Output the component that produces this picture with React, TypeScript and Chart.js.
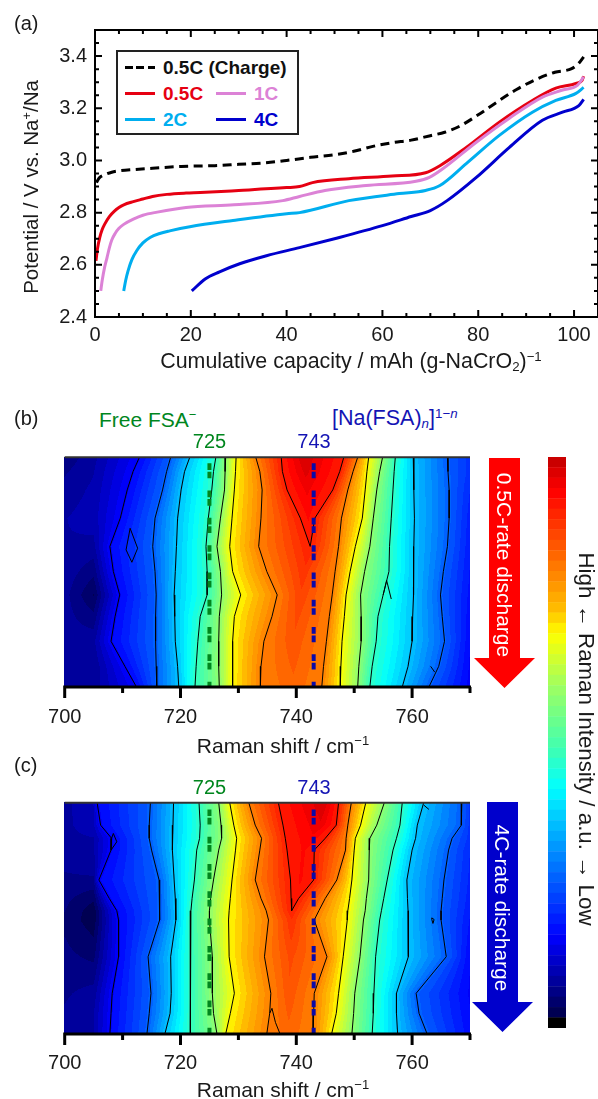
import React, { useEffect, useRef } from "react";
import { Chart, registerables } from "chart.js";

Chart.register(...registerables);

const FONT = "'Liberation Sans', Arial, sans-serif";

// ---------- Panel (a): discharge / charge curves (capacity, potential) ----------
const chargeCap = [0.3, 0.6, 1, 2, 3.5, 5, 8, 12, 18, 25, 30, 35, 40, 45, 50, 54, 58, 62, 66, 70, 73, 76, 80, 84, 88, 92, 96, 99.5, 101, 102];
const chargeV = [2.915, 2.925, 2.935, 2.945, 2.955, 2.96, 2.965, 2.97, 2.977, 2.98, 2.985, 2.99, 3.0, 3.012, 3.022, 3.035, 3.054, 3.068, 3.078, 3.095, 3.108, 3.13, 3.175, 3.225, 3.272, 3.31, 3.338, 3.352, 3.373, 3.397];
const c05Cap = [0.2, 0.5, 1, 1.5, 2, 3, 4, 5, 6, 8, 10, 12, 15, 19, 22, 30, 40, 42.7, 45.4, 53, 62, 69, 72, 77.5, 84.4, 91.3, 96.2, 100.4, 101.7, 102];
const c05V = [2.615, 2.66, 2.705, 2.735, 2.755, 2.785, 2.805, 2.82, 2.83, 2.842, 2.852, 2.862, 2.87, 2.875, 2.877, 2.885, 2.896, 2.9, 2.915, 2.93, 2.94, 2.953, 2.98, 3.05, 3.147, 3.23, 3.277, 3.295, 3.308, 3.323];
const c1Cap = [1.2, 1.5, 2, 2.5, 3, 3.5, 4.2, 5, 6, 8, 10, 13, 19, 29, 39.2, 42.7, 48, 56.6, 67, 69.8, 72.6, 79.6, 86.5, 93.4, 97.6, 100.7, 102];
const c1V = [2.5, 2.54, 2.59, 2.627, 2.665, 2.695, 2.72, 2.74, 2.755, 2.775, 2.79, 2.802, 2.82, 2.83, 2.846, 2.862, 2.885, 2.904, 2.92, 2.935, 2.968, 3.07, 3.162, 3.243, 3.27, 3.288, 3.32];
const c2Cap = [6, 6.4, 6.9, 7.7, 8.7, 10, 11.5, 13.5, 15.6, 19.8, 28.8, 40, 42.7, 53, 63.5, 69, 72, 77.5, 84.4, 91.3, 96.2, 100.4, 102];
const c2V = [2.5, 2.54, 2.577, 2.62, 2.654, 2.684, 2.705, 2.72, 2.73, 2.746, 2.77, 2.796, 2.8, 2.846, 2.873, 2.885, 2.904, 2.988, 3.096, 3.185, 3.23, 3.257, 3.28];
const c4Cap = [20.2, 23, 26, 30.2, 35.8, 42.7, 50, 60, 66, 70, 73.5, 79.6, 86.5, 93.4, 97.6, 101, 102];
const c4V = [2.5, 2.546, 2.573, 2.604, 2.635, 2.666, 2.7, 2.75, 2.785, 2.808, 2.846, 2.935, 3.05, 3.154, 3.185, 3.21, 3.234];

// ---------- Colour scale ----------
const bandCount = 55;
const stopValues = [0, 0.018, 0.02, 0.06, 0.16, 0.295, 0.42, 0.49, 0.6, 0.69, 0.73, 0.8, 0.87, 0.94, 1];
const stopColors = [[0, 0, 0], [0, 0, 0], [0, 0, 72], [0, 0, 128], [0, 0, 255], [0, 128, 255], [0, 255, 255], [64, 255, 176], [160, 255, 96], [255, 255, 0], [255, 192, 0], [255, 128, 0], [255, 64, 0], [255, 0, 0], [192, 0, 0]];
const contourLevels = [0.16, 0.26, 0.36, 0.47, 0.58, 0.69, 0.8, 0.91];

// ---------- Panel (b): rows are % of the discharge from the top ----------
const bRows = [0, 6.2, 14.2, 26.5, 38.8, 49.7, 59.9, 69.3, 80.1, 91, 100];
const bEdge700 = [0.06, 0.07, 0.08, 0.09, 0.09, 0.085, 0.08, 0.08, 0.08, 0.075, 0.075];
const bDip705 = [0.085, 0.09, 0.095, 0.1, 0.085, 0.06, 0.035, 0.06, 0.085, 0.075, 0.08];
const bL16 = [712.9, 711.8, 710.8, 709.6, 707.8, 708.4, 709.5, 708.7, 708.0, 710.4, 712.4];
const bL26 = [718.3, 717.6, 716.9, 715.6, 715.2, 715.6, 715.8, 715.7, 715.7, 715.8, 715.9];
const bL36 = [721.6, 720.7, 720.1, 719.5, 719.3, 719.1, 718.9, 719.0, 719.1, 719.5, 719.7];
const bL47 = [726.1, 725.7, 725.4, 724.8, 724.4, 724.6, 724.6, 723.4, 723.0, 722.7, 722.5];
const bL58 = [727.8, 727.7, 727.6, 726.9, 726.3, 726.9, 727.1, 726.7, 726.6, 726.6, 726.7];
const bL69 = [729.6, 729.5, 729.3, 728.9, 728.5, 729.0, 730.4, 729.3, 729.0, 729.0, 729.0];
const bL80 = [733.0, 733.7, 734.1, 733.9, 733.5, 734.9, 736.7, 735.8, 734.4, 733.9, 733.8];
const bPeakLeft = [737.4, 737.6, 738.4, 740.7, 742.4, 741.3, 740.7, 740.1, 739.5, 739.5, 739.5];
const bRidge = [741.3, 741.6, 741.8, 742.1, 742.4, 741.3, 740.7, 740.1, 739.5, 739.5, 739.5];
const bRidgeValue = [0.98, 0.97, 0.95, 0.93, 0.91, 0.885, 0.87, 0.86, 0.85, 0.84, 0.83];
const bPeakRight = [748.2, 747.5, 746.3, 743.2, 742.4, 741.3, 740.7, 740.1, 739.5, 739.5, 739.5];
const bR80 = [750.6, 749.8, 748.9, 747.8, 747.3, 746.7, 746.2, 745.7, 745.2, 744.7, 744.4];
const bR69 = [752.5, 752.2, 751.9, 751.4, 750.2, 749.3, 748.6, 748.3, 747.9, 747.7, 747.6];
const bR58 = [754.9, 754.4, 753.9, 753.3, 752.7, 751.8, 751.1, 751.2, 751.2, 750.8, 750.6];
const bR47 = [757.1, 756.9, 756.7, 756.4, 756.1, 756.0, 755.0, 754.1, 753.8, 753.1, 752.7];
const bR36 = [760.2, 760.3, 760.3, 760.4, 760.3, 760.3, 760.2, 760.1, 760.0, 759.3, 758.3];
const bR26 = [766.1, 766.2, 766.4, 766.4, 766.1, 765.4, 764.9, 765.2, 765.6, 764.6, 762.9];
const bEdge770 = [0.21, 0.21, 0.2, 0.19, 0.185, 0.18, 0.175, 0.17, 0.165, 0.16, 0.155];
const bPeakTipRow = 4;
const bLoopX = [711.3, 712.6, 711.6, 710.6, 711.3];
const bLoopY = [30.9, 39.6, 45.7, 40.3, 30.9];
const bSpikeX = [755.0, 755.6, 756.4];
const bSpikeY = [59.9, 53.6, 61.7];
const bNotchX = [763.9, 763.2];
const bNotchY = [93.5, 91];

// ---------- Panel (c) ----------
const cRows = [0, 9.7, 15.4, 20.5, 33.4, 41.4, 46.7, 50.7, 66.6, 82.4, 91.1, 100];
const cEdge700 = [0.085, 0.085, 0.085, 0.08, 0.07, 0.06, 0.055, 0.05, 0.06, 0.07, 0.075, 0.08];
const cDip705 = [0.11, 0.105, 0.09, 0.09, 0.07, 0.04, 0.025, 0.025, 0.05, 0.08, 0.09, 0.09];
const cL16 = [705.6, 706.2, 708.1, 708.0, 705.9, 707.7, 709.0, 709.3, 709.3, 708.2, 708.0, 707.8];
const cL26 = [714.8, 714.6, 714.6, 715.0, 716.3, 716.4, 716.4, 716.4, 714.4, 714.9, 714.6, 714.2];
const cL36 = [718.8, 718.7, 718.6, 718.6, 718.9, 719.1, 719.2, 719.2, 718.3, 718.4, 718.2, 717.3];
const cL47 = [723.2, 723.4, 723.3, 722.8, 722.4, 722.0, 721.8, 721.7, 721.7, 721.7, 721.7, 721.7];
const cL58 = [726.6, 727.0, 727.1, 726.6, 725.7, 725.2, 725.0, 725.0, 725.5, 725.5, 725.7, 726.3];
const cL69 = [728.5, 729.2, 729.7, 729.5, 728.9, 728.6, 728.4, 728.3, 728.4, 729.3, 728.6, 727.8];
const cL80 = [731.8, 732.9, 734.0, 733.7, 732.9, 733.9, 734.8, 735.2, 734.5, 735.6, 735.4, 734.9];
const cPeakLeft = [736.9, 737.7, 738.1, 738.4, 739.0, 739.1, 739.2, 739.2, 739.0, 738.7, 738.7, 738.7];
const cRidge = [744.7, 744.1, 742.4, 741.3, 740.7, 739.8, 739.2, 739.2, 739.0, 738.7, 738.7, 738.7];
const cRidgeValue = [0.98, 0.96, 0.94, 0.93, 0.93, 0.92, 0.91, 0.89, 0.86, 0.85, 0.84, 0.83];
const cPeakRight = [747.3, 746.9, 745.0, 743.1, 743.0, 740.4, 739.2, 739.2, 739.0, 738.7, 738.7, 738.7];
const cR80 = [749.5, 748.9, 748.6, 748.5, 747.0, 745.0, 743.9, 743.1, 745.3, 743.1, 743.0, 742.9];
const cR69 = [752.0, 751.1, 750.2, 750.0, 749.6, 749.2, 748.9, 748.8, 748.1, 747.3, 746.9, 746.1];
const cR58 = [755.2, 753.9, 752.7, 752.6, 752.5, 752.1, 751.9, 751.6, 751.0, 750.1, 749.9, 749.6];
const cR47 = [758.3, 757.9, 757.3, 756.7, 755.7, 755.1, 754.7, 754.4, 753.7, 753.4, 753.3, 753.1];
const cR36 = [762.0, 760.9, 760.6, 760.0, 759.1, 759.2, 759.3, 759.3, 759.4, 757.3, 757.3, 757.5];
const cR26 = [768.6, 768.5, 766.9, 766.3, 765.5, 765.2, 765.0, 765.0, 765.9, 760.7, 761.2, 762.6];
const cEdge770 = [0.21, 0.21, 0.21, 0.2, 0.195, 0.19, 0.185, 0.18, 0.165, 0.16, 0.165, 0.17];
const cPeakTipRow = 6;
const cNotchX = [708.1, 708.4, 709.0, 708.0];
const cNotchY = [15.4, 13.3, 16.9, 20.5];
const cBottomLoopX = [735.4, 735.8, 736.4, 737.2];
const cBottomLoopY = [91.1, 88.9, 95, 100];
const cDotX = [763.4, 763.8, 763.6, 763.4, 763.4];
const cDotY = [49.8, 50.5, 52.2, 50.5, 49.8];
const cTopNotchX = [762.0, 762.9];
const cTopNotchY = [1, 2.9];

const freeFsaShift = [725];
const naFsaShift = [743];
const xTickMajor = 20;

const makePanel = (rows, e700, dip, ls, pl, ridge, rv, pr, rs, e770, tip, details, dashStart) => ({
  rows, e700, dip, ls, pl, ridge, rv, pr, rs, e770, tip, details, dashStart,
});

const panelB = makePanel(bRows, bEdge700, bDip705, [bL16, bL26, bL36, bL47, bL58, bL69, bL80], bPeakLeft, bRidge, bRidgeValue, bPeakRight, [bR80, bR69, bR58, bR47, bR36, bR26], bEdge770, bPeakTipRow,
  [[bLoopX, bLoopY], [bSpikeX, bSpikeY], [bNotchX, bNotchY]], 2.6);
const panelC = makePanel(cRows, cEdge700, cDip705, [cL16, cL26, cL36, cL47, cL58, cL69, cL80], cPeakLeft, cRidge, cRidgeValue, cPeakRight, [cR80, cR69, cR58, cR47, cR36, cR26], cEdge770, cPeakTipRow,
  [[cNotchX, cNotchY], [cBottomLoopX, cBottomLoopY], [cDotX, cDotY], [cTopNotchX, cTopNotchY]], 2.9);

function colorAt(v: number) {
  let i = 0;
  while (i < stopValues.length - 2 && v > stopValues[i + 1]) i++;
  const t = Math.max(0, Math.min(1, (v - stopValues[i]) / (stopValues[i + 1] - stopValues[i] || 1)));
  const a = stopColors[i], b = stopColors[i + 1];
  return `rgb(${Math.round(a[0] + (b[0] - a[0]) * t)},${Math.round(a[1] + (b[1] - a[1]) * t)},${Math.round(a[2] + (b[2] - a[2]) * t)})`;
}
const bandColorList = Array.from({ length: bandCount }, (_, i) => colorAt((i + 0.5) / bandCount));
const bandColor = (v: number) => bandColorList[Math.max(0, Math.min(bandCount - 1, Math.floor(v * bandCount)))];
const bandLabels = bandColorList.map((_, i) => String(bandCount - 1 - i));

// Knots of one row: [x, value] left to right.
function rowKnots(p, r: number) {
  const n = p.rows.length;
  const at = (arr, i) => arr[i];
  const knotsOf = (i: number) => {
    const k: number[][] = [[700, at(p.e700, i)], [705, at(p.dip, i)]];
    p.ls.forEach((a, j) => k.push([at(a, i), contourLevels[j]]));
    const rv = at(p.rv, i);
    k.push([at(p.pl, i), Math.min(contourLevels[7], rv)]);
    k.push([at(p.ridge, i), rv]);
    k.push([at(p.pr, i), Math.min(contourLevels[7], rv)]);
    p.rs.forEach((a, j) => k.push([at(a, i), contourLevels[6 - j]]));
    k.push([770, at(p.e770, i)]);
    return k;
  };
  let i = 0;
  while (i < n - 2 && r > p.rows[i + 1]) i++;
  const t = Math.max(0, Math.min(1, (r - p.rows[i]) / (p.rows[i + 1] - p.rows[i])));
  const a = knotsOf(i), b = knotsOf(i + 1);
  return a.map((k, j) => [k[0] + (b[j][0] - k[0]) * t, k[1] + (b[j][1] - k[1]) * t]);
}

const heatPlugin = (panel) => ({
  id: "heat",
  beforeDatasetsDraw(chart) {
    const { ctx, chartArea: ca, scales } = chart;
    const sx = scales.x, sy = scales.y;
    const top = Math.floor(ca.top), bottom = Math.ceil(ca.bottom);
    const left = Math.floor(ca.left), right = Math.ceil(ca.right);
    ctx.save();
    for (let py = top; py < bottom; py++) {
      const knots = rowKnots(panel, sy.getValueForPixel(py + 0.5));
      let j = 0, runStart = left, runColor = "";
      for (let px = left; px <= right; px++) {
        const x = sx.getValueForPixel(px + 0.5);
        while (j < knots.length - 2 && x > knots[j + 1][0]) j++;
        const d = knots[j + 1][0] - knots[j][0] || 1;
        const t = Math.max(0, Math.min(1, (x - knots[j][0]) / d));
        const c = px === right ? "" : bandColor(knots[j][1] + (knots[j + 1][1] - knots[j][1]) * t);
        if (c !== runColor) {
          if (runColor) {
            ctx.fillStyle = runColor;
            ctx.fillRect(runStart, py, px - runStart, 1);
          }
          runStart = px;
          runColor = c;
        }
      }
    }
    ctx.restore();
  },
});

const heatFrame = {
  id: "heatFrame",
  afterDatasetsDraw(chart) {
    const { ctx, chartArea: ca, scales } = chart;
    ctx.save();
    ctx.strokeStyle = "#333";
    ctx.lineWidth = 2;
    ctx.beginPath();
    ctx.moveTo(ca.left, ca.top);
    ctx.lineTo(ca.right, ca.top);
    ctx.stroke();
    ctx.strokeStyle = "#000";
    ctx.lineWidth = 3;
    ctx.beginPath();
    ctx.moveTo(ca.left - 1.5, ca.bottom);
    ctx.lineTo(ca.right + 1, ca.bottom);
    scales.x.ticks.forEach((t) => {
      const p = scales.x.getPixelForValue(t.value);
      ctx.moveTo(p, ca.bottom);
      ctx.lineTo(p, ca.bottom + (t.value % xTickMajor === 0 ? 11 : 6));
    });
    ctx.stroke();
    ctx.restore();
  },
};

const boxFrame = {
  id: "boxFrame",
  afterDatasetsDraw(chart) {
    const { ctx, chartArea: ca, scales } = chart;
    ctx.save();
    ctx.strokeStyle = "#000";
    ctx.lineWidth = 2;
    ctx.beginPath();
    ctx.moveTo(ca.left, ca.bottom);
    ctx.lineTo(ca.left, ca.top);
    ctx.lineTo(ca.right, ca.top);
    ctx.lineTo(ca.right, ca.bottom);
    ctx.closePath();
    scales.x.ticks.forEach((t) => {
      const p = scales.x.getPixelForValue(t.value);
      const l = t.value % 20 === 0 ? 7 : 4;
      ctx.moveTo(p, ca.bottom);
      ctx.lineTo(p, ca.bottom - l);
      ctx.moveTo(p, ca.top);
      ctx.lineTo(p, ca.top + l);
    });
    scales.y.ticks.forEach((t) => {
      const p = scales.y.getPixelForValue(t.value);
      const major = Math.abs(t.value / 0.2 - Math.round(t.value / 0.2)) < 1e-6;
      const l = major ? 7 : 4;
      ctx.moveTo(ca.left, p);
      ctx.lineTo(ca.left + l, p);
      ctx.moveTo(ca.right, p);
      ctx.lineTo(ca.right - l, p);
    });
    ctx.stroke();
    ctx.restore();
  },
};

const tickFont = { family: FONT, size: 20 };
const TEXT = "#1a1a1a";
const noGrid = { display: false, drawTicks: false };

const zip = (xs, ys) => xs.map((x, i) => ({ x, y: ys[i] }));
const curve = (label, xs, ys, color, dash?) => ({
  label,
  data: zip(xs, ys),
  borderColor: color,
  borderWidth: 3,
  borderDash: dash || [],
  pointRadius: 0,
  showLine: true,
  cubicInterpolationMode: "monotone",
});

function buildCurves(canvas) {
  return new Chart(canvas, {
    type: "scatter",
    data: {
      datasets: [
        curve("0.5C (Charge)", chargeCap, chargeV, "#000000", [9, 5.5]),
        curve("1C", c1Cap, c1V, "#dc82d6"),
        curve("0.5C", c05Cap, c05V, "#e60012"),
        curve("2C", c2Cap, c2V, "#00aeef"),
        curve("4C", c4Cap, c4V, "#0000cd"),
      ],
    },
    options: {
      animation: false,
      responsive: false,
      layout: { padding: { top: 30, right: 5, left: 0, bottom: 0 } },
      plugins: { legend: { display: false }, tooltip: { enabled: false } },
      scales: {
        x: {
          type: "linear",
          min: 0,
          max: 105,
          grid: noGrid,
          border: { display: false },
          afterFit: (s) => { s.height = 73; },
          ticks: {
            stepSize: 5,
            autoSkip: false,
            maxRotation: 0,
            padding: 6,
            font: tickFont,
            color: TEXT,
            callback: (v) => (v % 20 === 0 ? String(v) : ""),
          },
        },
        y: {
          type: "linear",
          min: 2.4,
          max: 3.5,
          grid: noGrid,
          border: { display: false },
          afterFit: (s) => { s.width = 95; },
          ticks: {
            stepSize: 0.05,
            autoSkip: false,
            padding: 8,
            font: tickFont,
            color: TEXT,
            callback: (v) => (Math.abs(v / 0.2 - Math.round(v / 0.2)) < 1e-6 ? v.toFixed(1) : ""),
          },
        },
      },
    },
    plugins: [boxFrame],
  });
}

const contourLine = (pts) => ({
  data: pts,
  borderColor: "#000",
  borderWidth: 1,
  pointRadius: 0,
  showLine: true,
  tension: 0,
});
const markerLine = (x, dashStart, color) => ({
  data: [{ x, y: dashStart }, { x, y: 100 }],
  borderColor: color,
  borderWidth: 4,
  borderDash: [6.7, 1.7, 6.7, 12.2],
  pointRadius: 0,
  showLine: true,
});

function buildHeat(canvas, panel, plotTop, plotHeightBelow, labelPad) {
  const rowsOf = (xs) => zip(xs, panel.rows);
  const peakLoop = [
    ...rowsOf(panel.pl).slice(0, panel.tip + 1),
    ...rowsOf(panel.pr).slice(0, panel.tip + 1).reverse(),
  ];
  return new Chart(canvas, {
    type: "scatter",
    data: {
      datasets: [
        markerLine(freeFsaShift[0], panel.dashStart, "#00861e"),
        markerLine(naFsaShift[0], panel.dashStart, "#0a0aa8"),
        ...panel.ls.map((a) => contourLine(rowsOf(a))),
        contourLine(peakLoop),
        ...panel.rs.map((a) => contourLine(rowsOf(a))),
        ...panel.details.map((d) => contourLine(zip(d[0], d[1]))),
      ],
    },
    options: {
      animation: false,
      responsive: false,
      layout: { padding: { top: plotTop, left: 64.7, right: 598 - 470, bottom: 0 } },
      plugins: { legend: { display: false }, tooltip: { enabled: false } },
      scales: {
        x: {
          type: "linear",
          min: 700,
          max: 770,
          grid: noGrid,
          border: { display: false },
          afterFit: (s) => { s.height = plotHeightBelow; },
          ticks: {
            stepSize: 10,
            autoSkip: false,
            maxRotation: 0,
            padding: labelPad,
            font: tickFont,
            color: TEXT,
            callback: (v) => (v % xTickMajor === 0 && v !== 770 ? String(v) : ""),
          },
        },
        y: { type: "linear", min: 0, max: 100, reverse: true, display: false },
      },
    },
    plugins: [heatPlugin(panel), heatFrame],
  });
}

function buildColorBar(canvas) {
  return new Chart(canvas, {
    type: "bar",
    data: {
      labels: bandLabels,
      datasets: [
        {
          data: bandColorList.map(() => 1),
          backgroundColor: bandColorList.slice().reverse(),
          barPercentage: 1.04,
          categoryPercentage: 1,
          borderWidth: 0,
        },
      ],
    },
    options: {
      indexAxis: "y",
      animation: false,
      responsive: false,
      layout: { padding: 0 },
      plugins: { legend: { display: false }, tooltip: { enabled: false } },
      scales: {
        x: { type: "linear", min: 0, max: 1, display: false },
        y: { type: "category", display: false },
      },
    },
  });
}

const Txt = ({ x, y, color = TEXT, size = 20, rotate = 0, bold = false, align = "center", children }: any) => (
  <div
    style={{
      position: "absolute",
      left: x,
      top: y,
      color,
      fontSize: size,
      fontFamily: FONT,
      fontWeight: bold ? 700 : 400,
      whiteSpace: "nowrap",
      lineHeight: 1,
      transform: `translate(${align === "left" ? "0" : "-50%"},-50%) rotate(${rotate}deg)`,
    }}
  >
    {children}
  </div>
);
const Sup = ({ children }: any) => (
  <sup style={{ fontSize: "0.62em", lineHeight: 0, verticalAlign: "0.55em" }}>{children}</sup>
);
const Sub = ({ children }: any) => (
  <sub style={{ fontSize: "0.62em", lineHeight: 0, verticalAlign: "-0.2em" }}>{children}</sub>
);

const Arrow = ({ left, top, width, height, color }: any) => {
  const head = 61, shaft = 31, headLen = 30;
  const a = (head - shaft) / 2;
  return (
    <div
      style={{
        position: "absolute",
        left,
        top,
        width,
        height,
        background: color,
        clipPath: `polygon(${a}px 0, ${a + shaft}px 0, ${a + shaft}px ${height - headLen}px, ${head}px ${height - headLen}px, ${head / 2}px ${height}px, 0 ${height - headLen}px, ${a}px ${height - headLen}px)`,
      }}
    />
  );
};

const LegendLine = ({ x, y, color, dashed = false }: any) => (
  <div
    style={{
      position: "absolute",
      left: x,
      top: y - 1.5,
      width: 30,
      height: 3,
      background: dashed
        ? `repeating-linear-gradient(90deg, ${color} 0 8px, transparent 8px 11.5px)`
        : color,
    }}
  />
);

export default function App() {
  const aRef = useRef<HTMLCanvasElement>(null);
  const bRef = useRef<HTMLCanvasElement>(null);
  const cRef = useRef<HTMLCanvasElement>(null);
  const barRef = useRef<HTMLCanvasElement>(null);

  useEffect(() => {
    const charts = [
      buildCurves(aRef.current),
      buildHeat(bRef.current, panelB, 17.3, 83, 18),
      buildHeat(cRef.current, panelC, 17.7, 65, 17),
      buildColorBar(barRef.current),
    ];
    return () => charts.forEach((c) => c.destroy());
  }, []);

  const canvasStyle = (left: number, top: number): React.CSSProperties => ({ position: "absolute", left, top, display: "block" });

  return (
    <div style={{ position: "absolute", left: 0, top: 0, width: 598, height: 1099, overflow: "hidden", background: "#fff" }}>
      <canvas ref={aRef} width={604} height={390} style={canvasStyle(0, 0)} />
      <canvas ref={bRef} width={598} height={330} style={canvasStyle(0, 440)} />
      <canvas ref={cRef} width={598} height={314} style={canvasStyle(0, 785)} />
      <canvas ref={barRef} width={18} height={571} style={canvasStyle(548, 457)} />

      <Txt x={14} y={23} align="left">(a)</Txt>
      <Txt x={14} y={418} align="left">(b)</Txt>
      <Txt x={14} y={765} align="left">(c)</Txt>

      <Txt x={31} y={187} rotate={-90} size={20.5}>Potential / V vs. Na<Sup>+</Sup>/Na</Txt>
      <Txt x={351} y={362} size={21.4}>Cumulative capacity / mAh (g-NaCrO<Sub>2</Sub>)<Sup>−1</Sup></Txt>
      <Txt x={283} y={745} size={21}>Raman shift / cm<Sup>−1</Sup></Txt>
      <Txt x={283} y={1089} size={21}>Raman shift / cm<Sup>−1</Sup></Txt>

      {/* Legend */}
      <div style={{ position: "absolute", left: 116, top: 50, width: 179, height: 81, border: "2px solid #222", background: "#fff", boxSizing: "content-box" }} />
      <LegendLine x={125} y={67} color="#000" dashed />
      <Txt x={163} y={67} bold size={19} color="#111" align="left">0.5C (Charge)</Txt>
      <LegendLine x={125} y={93} color="#e60012" />
      <Txt x={163} y={93} bold size={19} color="#e60012" align="left">0.5C</Txt>
      <LegendLine x={216} y={93} color="#dc82d6" />
      <Txt x={254} y={93} bold size={19} color="#dc82d6" align="left">1C</Txt>
      <LegendLine x={125} y={119} color="#00aeef" />
      <Txt x={163} y={119} bold size={19} color="#00aeef" align="left">2C</Txt>
      <LegendLine x={216} y={119} color="#0000cd" />
      <Txt x={254} y={119} bold size={19} color="#0000cd" align="left">4C</Txt>

      {/* Panel labels */}
      <Txt x={99} y={419} size={21} color="#00861e" align="left">Free FSA<Sup>−</Sup></Txt>
      <Txt x={332} y={419} size={21.5} color="#1414b4" align="left">[Na(FSA)<Sub><i>n</i></Sub>]<Sup>1−<i>n</i></Sup></Txt>
      <Txt x={209.5} y={441} color="#00861e">725</Txt>
      <Txt x={314} y={441} color="#1414b4">743</Txt>
      <Txt x={209.5} y={787} color="#00861e">725</Txt>
      <Txt x={314} y={787} color="#1414b4">743</Txt>

      {/* Arrows */}
      <Arrow left={474} top={458} width={61} height={230} color="#ff0000" />
      <Txt x={504} y={565} rotate={90} size={21} color="#fff">0.5C-rate discharge</Txt>
      <Arrow left={472} top={802} width={61} height={230} color="#0000cc" />
      <Txt x={502} y={908} rotate={90} size={21} color="#fff">4C-rate discharge</Txt>

      <Txt x={586} y={739} rotate={90} size={22.3}>High ← Raman Intensity / a.u. → Low</Txt>
    </div>
  );
}
